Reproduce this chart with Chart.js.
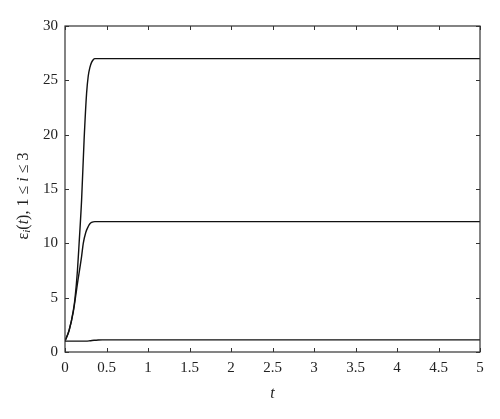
<!DOCTYPE html>
<html>
<head>
<meta charset="utf-8">
<script src="https://cdn.jsdelivr.net/npm/chart.js@4/dist/chart.umd.min.js"></script>
<style>
  body { margin: 0; background: #fff; }
  canvas { display: block; }
</style>
</head>
<body>
<canvas id="graf" width="500" height="419"></canvas>
<script>
const graf = document.getElementById('graf')

// curva de cima (eps_1)
const t1 = [0, 0.05, 0.1, 0.12, 0.15, 0.17, 0.2, 0.23, 0.26, 0.28, 0.3, 0.32, 0.34, 0.36, 0.4, 5]
const e1 = [1, 2, 3.8, 4.9, 7.5, 10, 14, 19.5, 23.8, 25.4, 26.2, 26.65, 26.9, 27, 27, 27]

// curva do meio (eps_2)
const t2 = [0, 0.05, 0.1, 0.15, 0.2, 0.22, 0.25, 0.28, 0.3, 0.32, 0.36, 0.4, 5]
const e2 = [1, 2, 3.7, 6.3, 8.8, 10, 11, 11.55, 11.8, 11.92, 12, 12, 12]

// curva de baixo (eps_3)
const t3 = [0, 0.25, 0.3, 0.35, 0.4, 0.45, 5]
const e3 = [1, 1, 1.03, 1.08, 1.11, 1.12, 1.12]

const xTicks = [0, 0.5, 1, 1.5, 2, 2.5, 3, 3.5, 4, 4.5, 5]
const yTicks = [0, 5, 10, 15, 20, 25, 30]

const pontos = (ts, vs) => ts.map((t, i) => ({ x: t, y: vs[i] }))

const serif = '"Liberation Serif", "DejaVu Serif", serif'

const serie = (dados) => ({
    data: dados,
    borderColor: '#111',
    borderWidth: 1.4,
    pointRadius: 0,
    fill: false,
    cubicInterpolationMode: 'monotone'
})

// moldura, ticks para dentro e titulos dos eixos
const moldura = {
    id: 'moldura',
    afterDraw(chart) {
        const ctx = chart.ctx
        const a = chart.chartArea
        const sx = chart.scales.x
        const sy = chart.scales.y
        ctx.save()
        ctx.strokeStyle = '#333'
        ctx.lineWidth = 1.2
        ctx.strokeRect(a.left, a.top, a.right - a.left, a.bottom - a.top)
        ctx.lineWidth = 1
        const tl = 4
        xTicks.forEach(v => {
            const px = Math.round(sx.getPixelForValue(v)) + 0.5
            ctx.beginPath()
            ctx.moveTo(px, a.bottom); ctx.lineTo(px, a.bottom - tl)
            ctx.moveTo(px, a.top); ctx.lineTo(px, a.top + tl)
            ctx.stroke()
        })
        yTicks.forEach(v => {
            const py = Math.round(sy.getPixelForValue(v)) + 0.5
            ctx.beginPath()
            ctx.moveTo(a.left, py); ctx.lineTo(a.left + tl, py)
            ctx.moveTo(a.right, py); ctx.lineTo(a.right - tl, py)
            ctx.stroke()
        })

        // titulo x
        ctx.fillStyle = '#222'
        ctx.font = 'italic 16px ' + serif
        ctx.textAlign = 'center'
        ctx.textBaseline = 'middle'
        ctx.fillText('t', (a.left + a.right) / 2, 394)

        // titulo y: εi(t), 1 ≤ i ≤ 3
        ctx.translate(24, 196)
        ctx.rotate(-Math.PI / 2)
        const partes = [
            { s: 'ε', f: '16px ' + serif, dy: 0 },
            { s: 'i', f: 'italic 11px ' + serif, dy: 3 },
            { s: '(', f: '16px ' + serif, dy: 0 },
            { s: 't', f: 'italic 16px ' + serif, dy: 0 },
            { s: '), 1 ≤ ', f: '16px ' + serif, dy: 0 },
            { s: 'i', f: 'italic 16px ' + serif, dy: 0 },
            { s: ' ≤ 3', f: '16px ' + serif, dy: 0 }
        ]
        let total = 0
        partes.forEach(p => { ctx.font = p.f; total += ctx.measureText(p.s).width })
        let x0 = -total / 2
        ctx.textAlign = 'left'
        partes.forEach(p => {
            ctx.font = p.f
            ctx.fillText(p.s, x0, p.dy)
            x0 += ctx.measureText(p.s).width
        })
        ctx.restore()
    }
}

new Chart(graf, {
    type: 'line',
    data: {
        datasets: [serie(pontos(t1, e1)), serie(pontos(t2, e2)), serie(pontos(t3, e3))]
    },
    options: {
        responsive: false,
        animation: false,
        layout: { padding: { top: 26, right: 20, left: 0, bottom: 0 } },
        plugins: {
            legend: { display: false },
            tooltip: { enabled: false }
        },
        scales: {
            x: {
                type: 'linear',
                min: 0,
                max: 5,
                afterFit: s => { s.height = 67 },
                afterBuildTicks: s => { s.ticks = xTicks.map(v => ({ value: v })) },
                grid: { display: false, drawTicks: false },
                border: { display: false },
                ticks: {
                    color: '#222',
                    padding: 7,
                    maxRotation: 0,
                    callback: v => String(v),
                    font: { family: serif, size: 15 }
                }
            },
            y: {
                min: 0,
                max: 30,
                afterFit: s => { s.width = 65 },
                afterBuildTicks: s => { s.ticks = yTicks.map(v => ({ value: v })) },
                grid: { display: false, drawTicks: false },
                border: { display: false },
                ticks: {
                    color: '#222',
                    padding: 7,
                    callback: v => String(v),
                    font: { family: serif, size: 15 }
                }
            }
        }
    },
    plugins: [moldura]
})
</script>
</body>
</html>
